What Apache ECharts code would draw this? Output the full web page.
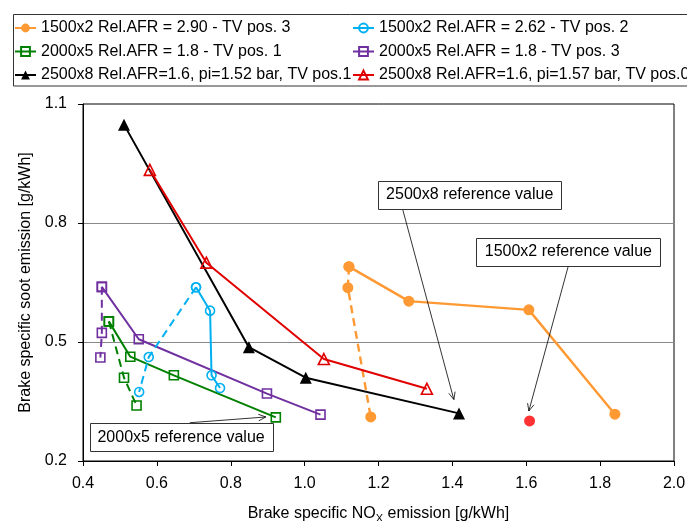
<!DOCTYPE html>
<html><head><meta charset="utf-8">
<script src="https://cdn.jsdelivr.net/npm/echarts@6/dist/echarts.min.js"></script>
<style>html,body{margin:0;padding:0;background:#fff}#c{width:687px;height:521px}</style>
</head><body><div id="c"></div>
<script>
// ---- data ----
const xTickLabels = ['0.4','0.6','0.8','1.0','1.2','1.4','1.6','1.8','2.0'];
const yTickLabels = ['0.2','0.5','0.8','1.1'];
const seriesNames = [
  '1500x2 Rel.AFR = 2.90 - TV pos. 3',
  '1500x2 Rel.AFR = 2.62 - TV pos. 2',
  '2000x5 Rel.AFR = 1.8 - TV pos. 1',
  '2000x5 Rel.AFR = 1.8 - TV pos. 3',
  '2500x8 Rel.AFR=1.6, pi=1.52 bar, TV pos.1',
  '2500x8 Rel.AFR=1.6, pi=1.57 bar, TV pos.0'
];
const orangeSolid  = [[1.120,0.690],[1.282,0.603],[1.607,0.581],[1.840,0.318]];
const orangeDashed = [[1.120,0.690],[1.117,0.637],[1.179,0.311]];
const blueSolid    = [[0.706,0.638],[0.744,0.579],[0.748,0.416],[0.771,0.384]];
const blueDashed   = [[0.706,0.638],[0.578,0.462],[0.552,0.374]];
const greenSolid   = [[0.470,0.552],[0.528,0.463],[0.646,0.416],[0.922,0.310]];
const greenDashed  = [[0.470,0.552],[0.511,0.410],[0.545,0.340]];
const purpleSolid  = [[0.451,0.639],[0.551,0.507],[0.898,0.370],[1.043,0.317]];
const purpleDashed = [[0.451,0.639],[0.451,0.523],[0.447,0.461]];
const blackSolid   = [[0.511,1.048],[0.849,0.487],[1.003,0.410],[1.418,0.320]];
const redSolid     = [[0.581,0.934],[0.734,0.700],[1.052,0.457],[1.331,0.382]];
const refPoint1500 = [[1.609,0.301]];

const annoTexts = ['2000x5 reference value','2500x8 reference value','1500x2 reference value'];
// annotation anchors in data coordinates: box top-left, box bottom-right, arrow start, arrow end
const annoBoxTL = [[0.418,0.296],[1.199,0.907],[1.465,0.763]];
const annoBoxBR = [[0.913,0.2245],[1.695,0.836],[1.963,0.692]];
const annoFrom  = [[0.689,0.2965],[1.265,0.836],[1.714,0.692]];
const annoTo    = [[0.895,0.311],[1.404,0.355],[1.607,0.326]];

// ---- styles ----
const FONT = 'Liberation Sans, Arial, sans-serif';
const C = {orange:'#FF9933', blue:'#00B0F0', green:'#008000', purple:'#7030A0', black:'#000000', red:'#E00000', dot:'#FF0000'};

function mk(name, data, color, symbol, size, hollow, dashed, lw) {
  return {
    name, type:'line', data, symbol, symbolSize:size, showSymbol:true,
    lineStyle:{color, width:lw || 2, type: dashed ? [8,5] : 'solid'},
    itemStyle: hollow ? {color:'rgba(255,255,255,0)', borderColor:color, borderWidth:1.6}
                      : {color, borderColor:color, borderWidth:0},
    emphasis:{disabled:true}, z: 3, animation:false
  };
}

const series = [
  mk(seriesNames[3], purpleSolid, C.purple, 'rect', 9, true, false),
  mk('purple-dashed', purpleDashed, C.purple, 'rect', 9, true, true),
  mk(seriesNames[2], greenSolid, C.green, 'rect', 9, true, false),
  mk('green-dashed', greenDashed, C.green, 'rect', 9, true, true),
  mk(seriesNames[1], blueSolid, C.blue, 'circle', 9, true, false),
  mk('blue-dashed', blueDashed, C.blue, 'circle', 9, true, true),
  mk(seriesNames[0], orangeSolid, C.orange, 'circle', 11, false, false, 2.4),
  mk('orange-dashed', orangeDashed, C.orange, 'circle', 11, false, true, 2.4),
  mk(seriesNames[4], blackSolid, C.black, 'triangle', 12, false, false),
  mk(seriesNames[5], redSolid, C.red, 'triangle', 11, true, false),
  {name:'ref-1500x2', type:'scatter', data:refPoint1500, symbol:'circle', symbolSize:11,
   itemStyle:{color:C.dot}, emphasis:{disabled:true}, z:3}
];

const legendPos = [[14,20],[352,20],[14,43.5],[352,43.5],[14,67],[352,67]];
const legends = seriesNames.map((n,i)=>({
  left: legendPos[i][0], top: legendPos[i][1], padding:0, data:[n],
  itemWidth:21, itemHeight:11, selectedMode:false,
  textStyle:{fontSize:16, color:'#000', fontFamily:FONT}
}));

const chart = echarts.init(document.getElementById('c'), null, {renderer:'canvas'});
chart.setOption({
  animation:false,
  backgroundColor:'#fff',
  textStyle:{fontFamily:FONT},
  legend: legends,
  grid:{left:83, right:13, top:104, bottom:60, show:true, borderColor:'#000', borderWidth:1,
        backgroundColor:'rgba(0,0,0,0)', containLabel:false, outerBoundsMode:'none'},
  xAxis:{
    type:'value', min:0.4, max:2.0, interval:0.2,
    axisLine:{show:true, onZero:false, lineStyle:{color:'#000', width:1}},
    axisTick:{show:true, inside:false, length:5, lineStyle:{color:'#000'}},
    axisLabel:{show:true, margin:15, fontSize:16, color:'#000', fontFamily:FONT,
      formatter:(v)=>{const s=v.toFixed(1); return xTickLabels.includes(s)?s:'';}},
    splitLine:{show:false},
    name:'{a|Brake specific NO}{b|X}{a| emission [g/kWh]}',
    nameLocation:'middle', nameGap:43,
    nameTextStyle:{color:'#000', rich:{
      a:{fontSize:16, fontFamily:FONT, color:'#000', lineHeight:20},
      b:{fontSize:11, fontFamily:FONT, color:'#000', lineHeight:12, verticalAlign:'bottom'}
    }}
  },
  yAxis:{
    type:'value', min:0.2, max:1.1, interval:0.3,
    axisLine:{show:true, onZero:false, lineStyle:{color:'#000', width:1}},
    axisTick:{show:true, inside:false, length:5, lineStyle:{color:'#000'}},
    axisLabel:{show:true, margin:16, fontSize:16, color:'#000', fontFamily:FONT,
      formatter:(v)=>{const s=v.toFixed(1); return yTickLabels.includes(s)?s:'';}},
    splitLine:{show:true, showMinLine:false, showMaxLine:false, lineStyle:{color:'#888', width:1.2}},
    name:'Brake specific soot emission [g/kWh]', nameLocation:'middle', nameGap:45,
    nameTextStyle:{fontSize:16, color:'#000', fontFamily:FONT}
  },
  series
});

// ---- annotations (legend frame, callout boxes, arrows) ----
function px(p){ return chart.convertToPixel({gridIndex:0}, p); }
const g = [];
g.push({type:'rect', id:'legendFrame', shape:{x:13.5, y:14.5, width:690, height:71.5},
  style:{fill:'none', stroke:'#333', lineWidth:1}, z:50, silent:true});
annoTexts.forEach((t,i)=>{
  const a = px(annoBoxTL[i]), b = px(annoBoxBR[i]);
  const s = px(annoFrom[i]), e = px(annoTo[i]);
  g.push({type:'line', shape:{x1:s[0], y1:s[1], x2:e[0], y2:e[1]}, style:{stroke:'#000', lineWidth:0.8}, z:60, silent:true});
  const ang = Math.atan2(e[1]-s[1], e[0]-s[0]);
  const L = 8, w = 0.42;
  [ang+Math.PI-w, ang+Math.PI+w].forEach(t2=>{
    g.push({type:'line', shape:{x1:e[0], y1:e[1], x2:e[0]+L*Math.cos(t2), y2:e[1]+L*Math.sin(t2)},
      style:{stroke:'#000', lineWidth:0.8}, z:60, silent:true});
  });
  g.push({type:'rect', shape:{x:Math.round(a[0])+0.5, y:Math.round(a[1])+0.5, width:Math.round(b[0]-a[0]), height:Math.round(b[1]-a[1])},
    style:{fill:'#fff', stroke:'#333', lineWidth:1}, z:61, silent:true});
  g.push({type:'text', x:(a[0]+b[0])/2, y:(a[1]+b[1])/2,
    style:{text:t, fill:'#000', font:'16px ' + FONT, align:'center', verticalAlign:'middle', textAlign:'center', textVerticalAlign:'middle'},
    z:62, silent:true});
});
chart.setOption({graphic:g});
</script>
</body></html>
